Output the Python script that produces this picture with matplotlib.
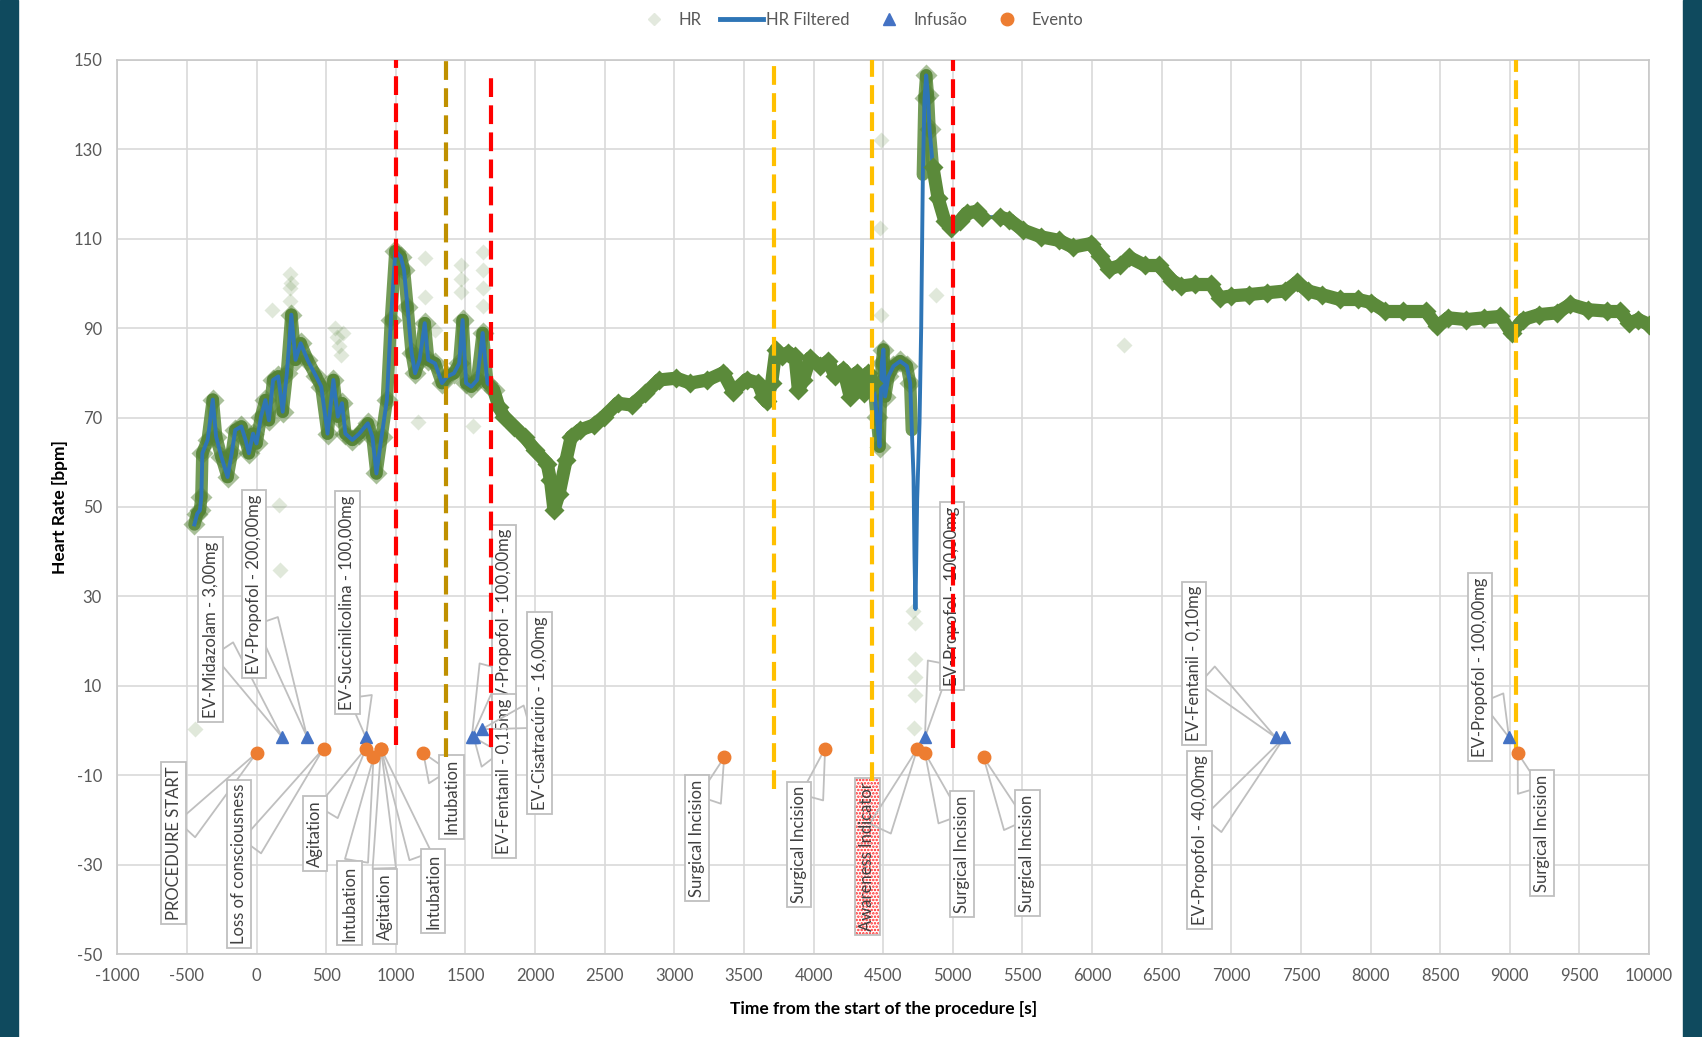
import matplotlib.pyplot as plt
import numpy as np
from matplotlib.lines import Line2D
from matplotlib.collections import LineCollection
from matplotlib.patches import Rectangle

plt.rcParams['font.family'] = ['Lato', 'DejaVu Sans']
plt.rcParams['axes.unicode_minus'] = False
plt.rcParams['hatch.linewidth'] = 1.2

# heart rate (s, bpm)
hr_time = [-446, -426, -406, -396, -389, -351, -314, -290, -252, -208, -178, -153, -109, -79, -55, -25,
           0, 32, 64, 89, 119, 156, 188, 218, 250, 280, 317, 366, 428, 465, 510, 552, 584, 614, 638,
           688, 738, 799, 832, 861, 898, 936, 965, 997, 1035, 1059, 1084, 1114, 1139, 1171, 1208, 1233,
           1282, 1332, 1369, 1418, 1455, 1480, 1505, 1542, 1584, 1624, 1658, 1703, 1740, 1777, 1851,
           1926, 2000, 2087, 2111, 2136, 2173, 2223, 2260, 2322, 2421, 2495, 2594, 2693, 2792, 2891,
           3015, 3114, 3238, 3351, 3423, 3519, 3603, 3639, 3663, 3699, 3730, 3771, 3819, 3867, 3891,
           3927, 3975, 4047, 4107, 4155, 4215, 4263, 4311, 4359, 4394, 4430, 4454, 4474, 4490, 4502,
           4514, 4538, 4574, 4622, 4670, 4694, 4706, 4718, 4725, 4732, 4744, 4761, 4773, 4785, 4797,
           4809, 4821, 4833, 4857, 4894, 4942, 4990, 5051, 5099, 5171, 5212, 5342, 5407, 5505, 5634,
           5764, 5862, 5992, 6057, 6122, 6203, 6268, 6382, 6479, 6576, 6641, 6739, 6853, 6918, 6999,
           7129, 7259, 7389, 7470, 7551, 7649, 7779, 7909, 8006, 8104, 8234, 8396, 8477, 8558, 8688,
           8818, 8932, 9013, 9094, 9208, 9337, 9435, 9565, 9695, 9792, 9857, 9922, 10000]
hr_filt = [46.1, 48.5, 49.3, 52.3, 62, 65, 74, 65.7, 61.2, 56.7, 62, 67.2, 68, 65, 62, 66.4,
           64.2, 70.2, 73.9, 69.4, 78.4, 79.2, 71.3, 79.9, 93, 82.9, 86.6, 82.9, 79.2, 76.9, 66.4, 78.4, 70.2, 73.2, 66.4,
           65, 66.4, 68.7, 65.7, 57.5, 65.7, 73.9, 91.8, 107.2, 106, 103, 94.8, 84.4, 79.9, 82.9, 91.1, 82.9,
           82.1, 77.7, 79.2, 79.9, 82.1, 91.8, 77.7, 76.9, 78.4, 88.9, 77.7, 76.2, 72.4, 70.2, 67.9,
           65.7, 62.7, 59.7, 56, 49.3, 53, 60.5, 65.7, 67.2, 68.3, 70.2, 73.2, 72.8, 75.4, 78.4,
           78.8, 77.7, 78.4, 80, 75.8, 78.5, 77.7, 74.7, 73.6, 77.7, 85.2, 83.7, 84.5, 83.7, 76.2,
           78.5, 83.3, 81.5, 82.6, 79.2, 80.7, 74.7, 80, 75.5, 80, 77.7, 70.2, 63.5, 82.2, 85.2,
           74.7, 79.2, 81.5, 82.6, 81.5, 77.7, 67.2, 56.7, 38.8, 27.2, 51.6, 68.7, 90.1, 124.3, 141.4,
           146.5, 142.2, 134.5, 126, 119.1, 114, 112.3, 114, 115.7, 116.1, 114.8, 114.8, 114.2, 111.9, 110.4,
           109.6, 108.1, 108.9, 106.2, 103.2, 104, 105.8, 104, 104, 100.6, 99.4, 99.8, 99.8, 96.8, 97.2,
           97.5, 97.9, 98.3, 100.2, 98.3, 97.5, 96.4, 96.4, 95.7, 93.8, 93.8, 93.8, 90.4, 92.3, 91.9,
           92.3, 92.6, 88.9, 91.9, 93, 93.4, 95.3, 94.1, 93.8, 93.8, 91.1, 91.9, 90.8]

# scattered raw HR samples away from the band
hr_out_time = [-439, 160, 168, 114, 243, 243, 243, 250, 560, 575, 590, 605, 620, 1163, 1208, 1208,
               1282, 1468, 1468, 1468, 1554, 1628, 1628, 1628, 1628, 4483, 4476, 4483, 4878,
               4712, 4730, 4730, 4730, 4730, 4722, 6227]
hr_out_val = [0.3, 50.5, 36, 94, 102, 99, 96, 100, 90, 88, 86, 84, 89, 69, 105.7, 97,
              89.6, 104, 101, 98, 68, 107, 103, 99, 95, 132, 112.3, 93, 97.3,
              26.8, 24, 16, 12, 8, 0.5, 86.2]

# infusions
inf_time = [185, 364, 785, 1546, 1560, 1617, 4800, 7318, 7381, 8994]
inf_hr = [-1.5, -1.5, -1.5, -1.5, -1.5, 0.3, -1.5, -1.5, -1.5, -1.5]
inf_label = ['EV-Midazolam - 3,00mg', 'EV-Propofol - 200,00mg', 'EV-Succinilcolina - 100,00mg',
             'EV-Propofol - 100,00mg', 'EV-Fentanil - 0,15mg', 'EV-Cisatracúrio - 16,00mg',
             'EV-Propofol - 100,00mg', 'EV-Fentanil - 0,10mg', 'EV-Propofol - 40,00mg',
             'EV-Propofol - 100,00mg']
inf_lab_t = [-330, -18, 653, 1775, 1775, 2033, 4995, 6733, 6772, 8784]
inf_lab_hr = [22.6, 32.8, 28.6, 25, -10.2, 3.9, 30.1, 15, -24.5, 14.2]

# events
ev_time = [0, 481, 785, 840, 894, 894, 1198, 3358, 4083, 4746, 4800, 5221, 9057]
ev_hr = [-5, -4, -4, -6, -4, -4, -5, -6, -4, -4, -5, -6, -5]
ev_label = ['PROCEDURE START', 'Loss of consciousness', 'Agitation', 'Intubation', 'Agitation',
            'Intubation', 'Intubation', 'Surgical Incision', 'Surgical Incision',
            'Awareness Indicator', 'Surgical Incision', 'Surgical Incision', 'Surgical Incision']
ev_lab_t = [-595, -127, 419, 668, 925, 1269, 1401, 3163, 3896, 4387, 5068, 5536, 9230]
ev_lab_hr = [-25.2, -29.8, -23, -38.6, -39.3, -35.9, -14.8, -24, -25.5, -28.1, -27.6, -27.4, -22.9]

# dashed markers
vl_time = [1000, 1362, 1682, 3716, 4418, 5003, 9041]
vl_bottom = [-3.2, -5.8, -3.6, -13, -11.2, -3.9, -4]
vl_top = [150, 150, 147.5, 150, 150, 150, 150]
vl_color = ['#FF0000', '#BF9000', '#FF0000', '#FFC000', '#FFC000', '#FF0000', '#FFC000']

fig = plt.figure(figsize=(17.02, 10.37), dpi=100)
ax = fig.add_axes([0.0689, 0.0798, 0.9000, 0.8626])
fig.patches.append(Rectangle((0, 0), 18 / 1702, 1, transform=fig.transFigure, color='#0F4A5E', zorder=0))
fig.patches.append(Rectangle((1683 / 1702, 0), 19 / 1702, 1, transform=fig.transFigure, color='#0F4A5E', zorder=0))

green = '#5B8A3A'
t = np.array(hr_time, float)
v = np.array(hr_filt, float)
segs = np.stack([np.column_stack([t[:-1], v[:-1]]), np.column_stack([t[1:], v[1:]])], axis=1)
mid = (t[:-1] + t[1:]) / 2
noisy = (mid < 1720) | ((mid > 4440) & (mid < 4850))
gap = ((mid > 4700) & (mid < 4790)) | ((mid > 5200) & (mid < 5350))

ax.plot(hr_out_time, hr_out_val, 'D', ms=8, color='#548235', alpha=0.18, mec='none', zorder=2)
ax.add_collection(LineCollection(segs[noisy & ~gap], colors=green, linewidths=9, alpha=0.85,
                                 capstyle='round', zorder=2))
pt_noisy = (t < 1720) | ((t > 4440) & (t < 4700)) | ((t > 4790) & (t < 4850))
ax.plot(t[pt_noisy], v[pt_noisy], 'D', ms=11, color='#548235', alpha=0.5, mec='none', zorder=2)
ax.plot(t, v, color='#2E75B6', lw=2.8, zorder=3, solid_joinstyle='round')
ax.add_collection(LineCollection(segs[~noisy & ~gap], colors=green, linewidths=9.5,
                                 capstyle='round', zorder=4))
pt_stable = ~pt_noisy & ~(((t > 4700) & (t < 4790)))
ax.plot(t[pt_stable], v[pt_stable], 'D', ms=10, color=green, mec='none', zorder=4)

for x, y0, y1, c in zip(vl_time, vl_bottom, vl_top, vl_color):
    ax.plot([x, x], [y0, y1], color=c, lw=3, dashes=(4.5, 2), zorder=6)


def callout(txt, xy, xytext, hatch=False):
    if hatch:
        ax.text(xytext[0], xytext[1], txt, rotation=90, ha='center', va='center', fontsize=12,
                color='none', zorder=5,
                bbox=dict(boxstyle='square,pad=0.25', fc='white', ec='#FF2020', lw=0, hatch='.....'))
    ax.annotate(txt, xy=xy, xytext=xytext, rotation=90, ha='center', va='center', fontsize=12,
                color='#404040', zorder=5,
                bbox=dict(boxstyle='square,pad=0.25', fc='none' if hatch else 'white', ec='#BFBFBF', lw=1.3),
                arrowprops=dict(arrowstyle='wedge,tail_width=1.4,shrink_factor=0.5', fc='none',
                                ec='#BFBFBF', lw=1.3, shrinkA=0, shrinkB=0))


for i in range(len(inf_time)):
    callout(inf_label[i], (inf_time[i], inf_hr[i]), (inf_lab_t[i], inf_lab_hr[i]))
for i in range(len(ev_time)):
    callout(ev_label[i], (ev_time[i], ev_hr[i]), (ev_lab_t[i], ev_lab_hr[i]),
            hatch=ev_label[i] == 'Awareness Indicator')

ax.plot(inf_time, inf_hr, '^', ms=9, color='#4472C4', zorder=7)
ax.plot(ev_time, ev_hr, 'o', ms=9, color='#ED7D31', zorder=7)

ax.set_xlim(-1000, 10000)
ax.set_ylim(-50, 150)
ax.set_xticks(np.arange(-1000, 10001, 500))
ax.set_yticks(np.arange(-50, 151, 20))
ax.grid(True, color='#D9D9D9', lw=1.2)
ax.set_axisbelow(True)
for s in ax.spines.values():
    s.set_color('#C8C8C8')
    s.set_linewidth(1.2)
ax.tick_params(length=0, labelsize=12, colors='#595959')
ax.tick_params(axis='y', pad=11)
ax.tick_params(axis='x', pad=10)
ax.set_xlabel('Time from the start of the procedure [s]', fontsize=12.5, fontweight='bold', labelpad=12)
ax.set_ylabel('Heart Rate [bpm]', fontsize=12.5, fontweight='bold', labelpad=4)

handles = [Line2D([], [], marker='D', ls='none', ms=6, color='#E3E9DE'),
           Line2D([], [], color='#2E75B6', lw=3.5),
           Line2D([], [], marker='^', ls='none', ms=9, color='#4472C4'),
           Line2D([], [], marker='o', ls='none', ms=9, color='#ED7D31')]
fig.legend(handles, ['HR', 'HR Filtered', 'Infusão', 'Evento'], loc='center', bbox_to_anchor=(0.504, 0.981),
           ncol=4, frameon=False, fontsize=12, labelcolor='#595959', handlelength=2.6,
           handletextpad=0.15, columnspacing=1.1)

fig.savefig('out.png', dpi=100)
